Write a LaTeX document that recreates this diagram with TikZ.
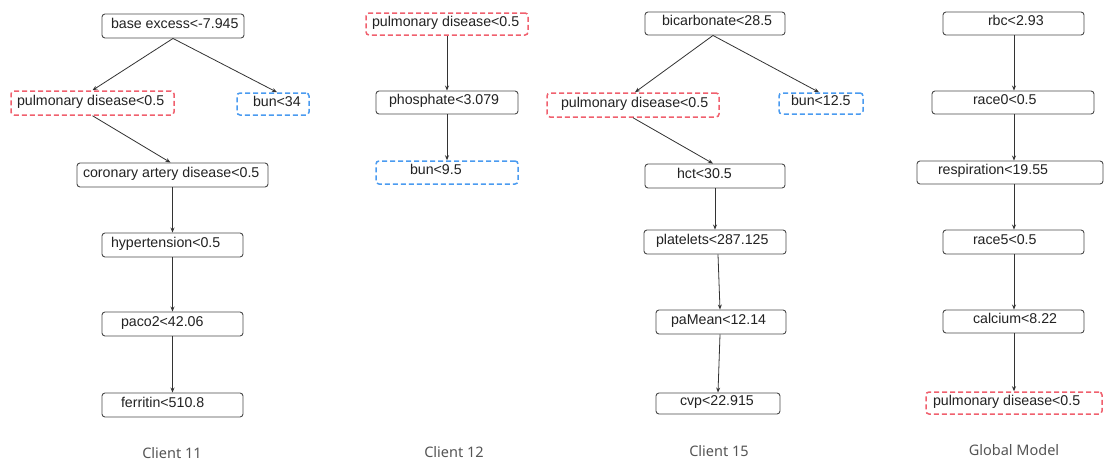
\documentclass[tikz,border=0pt]{standalone}
\usepackage{fontspec}
\setmainfont{Liberation Sans}
\newfontfamily\capfont{Noto Sans}
\usetikzlibrary{arrows.meta}
\definecolor{boxline}{HTML}{4A4A4A}
\definecolor{redd}{HTML}{F0606E}
\definecolor{blued}{HTML}{4A9BF0}
\definecolor{txt}{HTML}{222222}
\definecolor{captxt}{HTML}{555555}
\definecolor{arr}{HTML}{333333}
\newcommand{\bt}[3]{\makebox[#1pt][l]{\hspace*{#2pt}#3}}
\tikzset{
  tbox/.style={inner sep=0pt, minimum height=24pt, text height=9pt, text depth=4.5pt,
    rounded corners=3pt, font=\fontsize{14.2}{16}\selectfont, text=txt},
  plainbox/.style={tbox, draw=boxline, line width=0.9pt},
  redbox/.style={tbox, draw=redd, line width=1.5pt, dash pattern=on 5pt off 3pt},
  bluebox/.style={tbox, draw=blued, line width=1.5pt, dash pattern=on 5pt off 3pt},
  conn/.style={draw=arr, line width=0.8pt, -{Stealth[length=5pt,width=4pt]}},
  caption/.style={font=\capfont\fontsize{14.5}{16}\selectfont, text=captxt}
}
\begin{document}
\begin{tikzpicture}[x=1pt,y=-1pt]
\useasboundingbox[fill=white] (0,0) rectangle (1104,461);
% Client 11
\node[plainbox] (n11a) at (173,26) {\bt{142}{9}{base excess<-7.945}};
\node[redbox] (n11b) at (92.5,103) {\bt{163}{6}{pulmonary disease<0.5}};
\node[bluebox, minimum height=22pt] (n11c) at (273,104) {\bt{72}{16}{bun<34}};
\node[plainbox] (n11d) at (172.5,175) {\bt{191}{6}{coronary artery disease<0.5}};
\node[plainbox] (n11e) at (172.5,245) {\bt{141}{9}{hypertension<0.5}};
\node[plainbox] (n11f) at (172.5,324) {\bt{141}{19}{paco2<42.06}};
\node[plainbox] (n11g) at (172.5,405) {\bt{141}{19}{ferritin<510.8}};
\draw[conn] (n11a.south) -- (n11b.north);
\draw[conn] (n11a.south) -- ([xshift=4pt]n11c.north);
\draw[conn] (n11b.south) -- ([xshift=-2pt]n11d.north);
\draw[conn] (n11d.south) -- (n11e.north);
\draw[conn] (n11e.south) -- (n11f.north);
\draw[conn] (n11f.south) -- (n11g.north);
\node[caption] (c11) at (172,453) {Client 11};
% Client 12
\node[redbox, minimum height=22pt] (n12a) at (447,24) {\bt{162}{6}{pulmonary disease<0.5}};
\node[plainbox, minimum height=23pt] (n12b) at (447,102.5) {\bt{142}{13}{phosphate<3.079}};
\node[bluebox, minimum height=23pt] (n12c) at (447,172.5) {\bt{142}{34}{bun<9.5}};
\draw[conn] (n12a.south) -- (n12b.north);
\draw[conn] (n12b.south) -- (n12c.north);
\node[caption] (c12) at (454,452) {Client 12};
% Client 15
\node[plainbox, minimum height=23pt] (n15a) at (715,23.5) {\bt{140}{17}{bicarbonate<28.5}};
\node[redbox] (n15b) at (633,105) {\bt{172}{14}{pulmonary disease<0.5}};
\node[bluebox, minimum height=21pt] (n15c) at (821,103.5) {\bt{84}{12}{bun<12.5}};
\node[plainbox] (n15d) at (715,176) {\bt{140}{32}{hct<30.5}};
\node[plainbox] (n15e) at (715,242) {\bt{142}{12}{platelets<287.125}};
\node[plainbox] (n15f) at (721,322) {\bt{130}{15}{paMean<12.14}};
\node[plainbox, minimum height=21pt] (n15g) at (718,403.5) {\bt{124}{24}{cvp<22.915}};
\draw[conn] ([xshift=-2pt]n15a.south) -- ([xshift=2pt]n15b.north);
\draw[conn] ([xshift=-2pt]n15a.south) -- ([xshift=-2pt]n15c.north);
\draw[conn] (n15b.south) -- ([xshift=-2pt]n15d.north);
\draw[conn] (n15d.south) -- (n15e.north);
\draw[conn] ([xshift=3pt]n15e.south) -- ([xshift=-1pt]n15f.north);
\draw[conn] ([xshift=-1pt]n15f.south) -- (n15g.north);
\node[caption] (c15) at (719,451) {Client 15};
% Global model
\node[plainbox, minimum height=23pt] (ga) at (1013.5,23.5) {\bt{141}{45}{rbc<2.93}};
\node[plainbox, minimum height=23pt] (gb) at (1013,102.5) {\bt{162}{41}{race0<0.5}};
\node[plainbox, minimum height=23pt] (gc) at (1010,172.5) {\bt{186}{21}{respiration<19.55}};
\node[plainbox] (gd) at (1013.5,242) {\bt{141}{30}{race5<0.5}};
\node[plainbox, minimum height=23pt] (ge) at (1013.5,321.5) {\bt{141}{30}{calcium<8.22}};
\node[redbox, minimum height=22pt] (gf) at (1014,403) {\bt{176}{7}{pulmonary disease<0.5}};
\coordinate (gx) at (1014,0);
\draw[conn] (ga.south -| gx) -- (gb.north -| gx);
\draw[conn] (gb.south -| gx) -- (gc.north -| gx);
\draw[conn] (gc.south -| gx) -- (gd.north -| gx);
\draw[conn] (gd.south -| gx) -- (ge.north -| gx);
\draw[conn] (ge.south -| gx) -- (gf.north -| gx);
\node[caption] (cg) at (1014,450) {Global Model};
\end{tikzpicture}
\end{document}
